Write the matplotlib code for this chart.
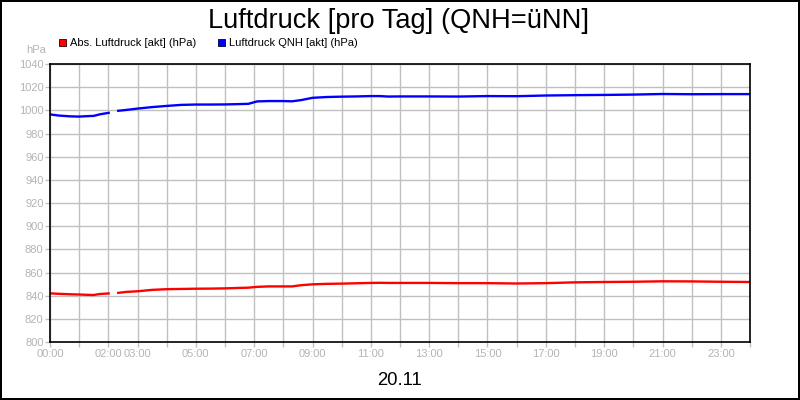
import numpy as np
import matplotlib
matplotlib.use("Agg")
import matplotlib.pyplot as plt
from matplotlib.patches import Rectangle

# ---- data ----
hours = [0.0, 0.3, 0.7, 1.0, 1.3, 1.5, 1.7, 2.05, 2.15, 2.3, 2.6, 3.0, 3.5, 4.0, 4.5,
         5.0, 5.5, 6.0, 6.5, 6.8, 7.1, 7.5, 8.0, 8.3, 8.6, 9.0, 9.5, 10.0, 10.5,
         11.0, 11.3, 11.6, 12.0, 13.0, 14.0, 15.0, 16.0, 17.0, 18.0, 19.0, 20.0,
         21.0, 22.0, 23.0, 24.0]
qnh_pressure = [996.5, 995.5, 994.8, 994.6, 995.0, 995.2, 996.5, 998.0, np.nan, 999.5,
                1000.3, 1001.5, 1002.8, 1003.8, 1004.7, 1005.0, 1005.0, 1005.1, 1005.4,
                1005.6, 1007.7, 1008.0, 1008.0, 1007.8, 1008.8, 1010.8, 1011.5, 1011.8,
                1012.0, 1012.3, 1012.3, 1011.9, 1012.0, 1012.0, 1011.9, 1012.3, 1012.2,
                1012.8, 1013.1, 1013.3, 1013.6, 1014.1, 1013.9, 1014.0, 1014.0]
abs_pressure = [842.0, 841.6, 841.2, 841.0, 840.7, 840.6, 841.4, 842.0, np.nan, 842.3,
                843.2, 843.8, 845.0, 845.6, 845.8, 846.0, 846.1, 846.3, 846.7, 846.9,
                847.6, 848.0, 848.0, 848.0, 849.0, 849.8, 850.2, 850.4, 850.7, 851.0,
                851.1, 851.0, 851.0, 851.0, 850.8, 850.8, 850.5, 850.8, 851.5, 851.8,
                852.0, 852.4, 852.3, 852.0, 851.8]
series_labels = ["Abs. Luftdruck [akt] (hPa)", "Luftdruck QNH [akt] (hPa)"]
series_colors = ["#ff0000", "#0000ff"]
x_ticks = list(range(0, 25))
x_tick_labels = {0: "00:00", 2: "02:00", 3: "03:00", 5: "05:00", 7: "07:00", 9: "09:00",
                 11: "11:00", 13: "13:00", 15: "15:00", 17: "17:00", 19: "19:00",
                 21: "21:00", 23: "23:00"}
y_ticks = list(range(800, 1041, 20))
title = "Luftdruck [pro Tag] (QNH=üNN]"
date_label = "20.11"
unit_label = "hPa"

plt.rcParams['font.family'] = ['Liberation Sans', 'DejaVu Sans']

W, H = 800, 400
fig = plt.figure(figsize=(8, 4), dpi=100, facecolor='white', edgecolor='black', linewidth=1.5)
ax = fig.add_axes([50 / W, (H - 342) / H, 700 / W, 278 / H])

grid_c = "#c0c0c0"
lab_c = "#b4b4b4"

ax.plot(hours, abs_pressure, color=series_colors[0], lw=1.7, solid_capstyle='butt')
ax.plot(hours, qnh_pressure, color=series_colors[1], lw=1.7, solid_capstyle='butt')

ax.set_xlim(0, 24)
ax.set_ylim(800, 1040)
ax.set_xticks(x_ticks)
ax.set_xticklabels([x_tick_labels.get(h, "") for h in x_ticks])
ax.set_yticks(y_ticks)
ax.set_yticklabels([str(v) for v in y_ticks])
ax.grid(True, color=grid_c, lw=1.0)
ax.set_axisbelow(True)
for s in ax.spines.values():
    s.set_color('black')
    s.set_linewidth(1.2)
ax.tick_params(axis='x', colors=grid_c, labelcolor=lab_c, length=3.6, width=1, pad=1.2, labelsize=8)
ax.tick_params(axis='y', colors=grid_c, labelcolor=lab_c, length=3.6, width=1, pad=1, labelsize=8)

fig.text(399 / W, 1 - 28.5 / H, title, ha='center', va='baseline', fontsize=19.6, color='black')
fig.text(399 / W, 1 - 385 / H, date_label, ha='center', va='baseline', fontsize=13.3, color='black')
fig.text(46 / W, 1 - 50 / H, unit_label, ha='right', va='center', fontsize=8, color=lab_c)

# legend
leg_x = [59, 218]
for lx, lab, col in zip(leg_x, series_labels, series_colors):
    fig.patches.append(Rectangle((lx / W, 1 - 46 / H), 7 / W, 7 / H, transform=fig.transFigure,
                                 facecolor=col, edgecolor='#300000' if col == '#ff0000' else '#000030',
                                 lw=0.6, figure=fig))
    fig.text((lx + 11) / W, 1 - 43.5 / H, lab, ha='left', va='center', fontsize=8, color='black')

fig.savefig("out.png", dpi=100)
